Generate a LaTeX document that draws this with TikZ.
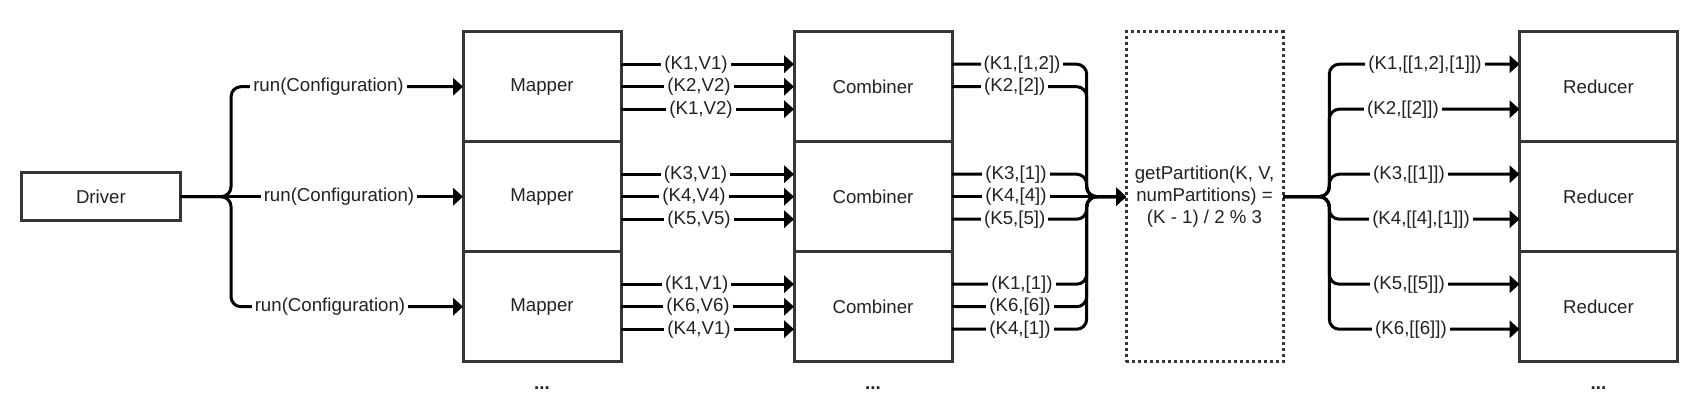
\documentclass[tikz,border=0pt]{standalone}
\usepackage{fontspec}
\setmainfont{Liberation Sans}
\usetikzlibrary{arrows.meta}
\definecolor{boxc}{HTML}{363636}
\definecolor{txt}{HTML}{222222}
\begin{document}
\begin{tikzpicture}[x=0.75pt,y=-0.75pt,
  font=\fontsize{14pt}{16.5pt}\selectfont, text=txt,
  box/.style={draw=boxc, line width=2.25pt, minimum width=118.5pt, minimum height=82.5pt, inner sep=0pt, outer sep=0pt},
  drv/.style={box, minimum width=118.7pt, minimum height=36pt},
  partbox/.style={draw=boxc, line width=2.25pt, dash pattern=on 2.25pt off 2.25pt, minimum width=117.75pt, minimum height=247.5pt, align=center, inner sep=0pt, outer sep=0pt},
  wire/.style={line width=2.25pt, draw=black, rounded corners=7.5pt},
  arr/.style={wire, -{Triangle[length=7.5pt,width=13pt]}},
  lbl/.style={fill=white, inner xsep=2.25pt, inner ysep=0pt, text=txt},
  more/.style={font=\fontsize{14pt}{16pt}\selectfont\bfseries}
]
\useasboundingbox (0,0) rectangle (1701,418);

% boxes
\node[drv] (drv) at (100.9,196.7) {Driver};
\node[box] (m1) at (542,86.7) {Mapper};
\node[box] (m2) at (542,196.7) {Mapper};
\node[box] (m3) at (542,306.7) {Mapper};
\node[box] (c1) at (873,86.7) {Combiner};
\node[box] (c2) at (873,196.7) {Combiner};
\node[box] (c3) at (873,306.7) {Combiner};
\node[partbox] (part) at (1204.5,196.7) {getPartition(K, V,\\numPartitions) =\\(K - 1) / 2 \% 3};
\node[box] (r1) at (1598.5,86.7) {Reducer};
\node[box] (r2) at (1598.5,196.7) {Reducer};
\node[box] (r3) at (1598.5,306.7) {Reducer};

% driver to mappers
\coordinate (dj) at ([xshift=38.25pt]drv.east);
\draw[arr] (drv.east) -- (dj) |- (m1.west);
\draw[arr] (drv.east) -- (m2.west);
\draw[arr] (drv.east) -- (dj) |- (m3.west);

% mappers to combiners
\foreach \i in {1,2,3}
  \foreach \s in {16.875pt,0pt,-16.875pt}
    \draw[arr] ([yshift=\s]m\i.east) -- ([yshift=\s]c\i.west);

% combiners to partitioner
\coordinate (cj) at ([xshift=-29.5pt]part.west);
\draw[arr] ([yshift=16.875pt]c1.east) -| (cj) -- (part.west);
\draw[arr] (c1.east) -| (cj) -- (part.west);
\draw[arr] ([yshift=16.875pt]c2.east) -| (cj) -- (part.west);
\draw[arr] (c2.east) -- (part.west);
\draw[arr] ([yshift=-16.875pt]c2.east) -| (cj) -- (part.west);
\draw[arr] ([yshift=16.875pt]c3.east) -| (cj) -- (part.west);
\draw[arr] (c3.east) -| (cj) -- (part.west);
\draw[arr] ([yshift=-16.875pt]c3.east) -| (cj) -- (part.west);

% partitioner to reducers
\coordinate (rj) at ([xshift=34.7pt]part.east);
\foreach \i in {1,2,3}
  \foreach \s in {16.875pt,-16.875pt}
    \draw[arr] (part.east) -- (rj) |- ([yshift=\s]r\i.west);

% labels: driver
\node[lbl] (lr1) at (328.5,86.7) {run(Configuration)};
\node[lbl] (lr2) at (339,196.7) {run(Configuration)};
\node[lbl] (lr3) at (330,306.7) {run(Configuration)};

% labels: mapper -> combiner
\node[lbl] (a1) at (696,64.2) {(K1,V1)};
\node[lbl] (a2) at (699,86.7) {(K2,V2)};
\node[lbl] (a3) at (701,109.2) {(K1,V2)};
\node[lbl] (a4) at (695.5,174.2) {(K3,V1)};
\node[lbl] (a5) at (694,196.7) {(K4,V4)};
\node[lbl] (a6) at (699,219.2) {(K5,V5)};
\node[lbl] (a7) at (696.7,284.2) {(K1,V1)};
\node[lbl] (a8) at (698,306.7) {(K6,V6)};
\node[lbl] (a9) at (699,329.2) {(K4,V1)};

% labels: combiner -> partitioner
\node[lbl] (b1) at (1022,64.2) {(K1,[1,2])};
\node[lbl] (b2) at (1014.7,86.7) {(K2,[2])};
\node[lbl] (b3) at (1016,174.2) {(K3,[1])};
\node[lbl] (b4) at (1016,196.7) {(K4,[4])};
\node[lbl] (b5) at (1014.7,219.2) {(K5,[5])};
\node[lbl] (b6) at (1022,284.2) {(K1,[1])};
\node[lbl] (b7) at (1020,306.7) {(K6,[6])};
\node[lbl] (b8) at (1020,329.2) {(K4,[1])};

% labels: partitioner -> reducers
\node[lbl] (d1) at (1425,64.2) {(K1,[[1,2],[1]])};
\node[lbl] (d2) at (1403,109.2) {(K2,[[2]])};
\node[lbl] (d3) at (1409,174.2) {(K3,[[1]])};
\node[lbl] (d4) at (1421,219.2) {(K4,[[4],[1]])};
\node[lbl] (d5) at (1409,284.2) {(K5,[[5]])};
\node[lbl] (d6) at (1411,329.2) {(K6,[[6]])};

% ellipses
\node[more] (e1) at (542,388) {...};
\node[more] (e2) at (873,388) {...};
\node[more] (e3) at (1598.5,388) {...};
\end{tikzpicture}
\end{document}
